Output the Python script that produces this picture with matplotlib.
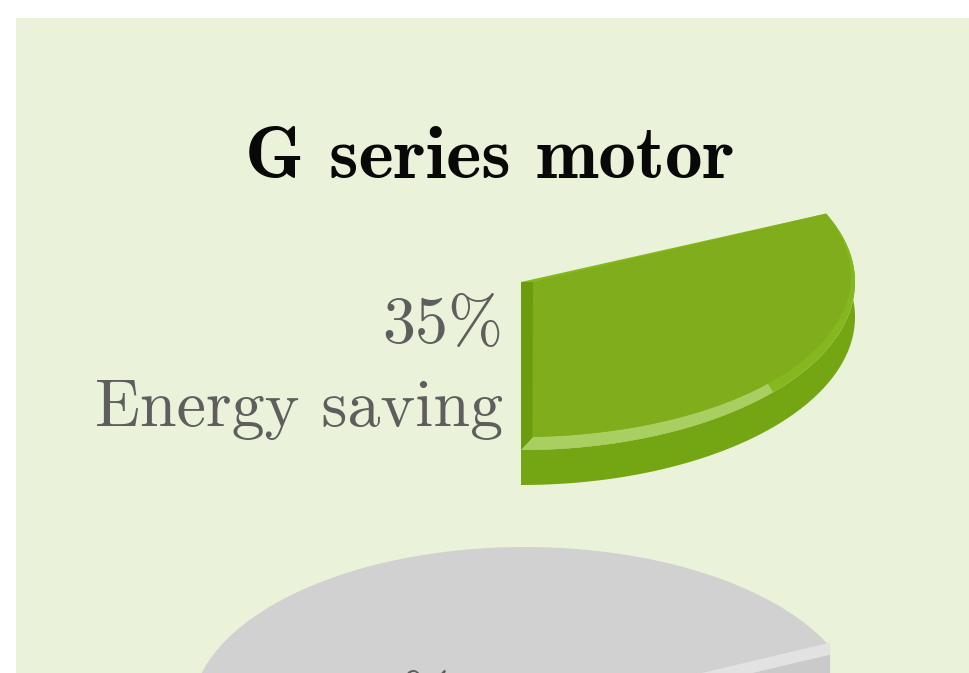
import numpy as np
import matplotlib
matplotlib.use("Agg")
import matplotlib.pyplot as plt

# values from the picture
labels = ["Energy saving", "Rest"]
shares = [35, 65]
title_text = "G series motor"
value_labels = ["35%", "65%"]

BG = "#eaf2d9"
cx, cy, rx, ry = 521, 282, 334, 168
gray_cx, gray_cy = 525, 715
depth = 35
squash = 0.905  # the tilted pie draws 126 deg about 114 deg wide


def arc(a0, a1, x0=cx, y0=cy, sx=rx, sy=ry, n=120):
    # angle runs counter clockwise from the bottom of the ellipse
    t = np.radians(np.linspace(a0, a1, n))
    return x0 + sx * np.sin(t), y0 + sy * np.cos(t)


fig = plt.figure(figsize=(9.7, 6.73), dpi=100, facecolor="white")
ax = fig.add_axes([0, 0, 1, 1])
ax.set_xlim(0, 970)
ax.set_ylim(673, 0)
ax.axis("off")

# panel behind the chart
ax.fill([16, 970, 970, 16], [18, 18, 673, 673], color=BG, lw=0)

green_end = shares[0] / sum(shares) * 360 * squash
split = green_end * 0.43

# green slice, side wall
xs, ys = arc(0, green_end)
ax.fill(np.r_[xs, xs[::-1]], np.r_[ys, ys[::-1] + depth], color="#74a613", lw=0)

# green slice, rim and bevel
ax.fill(np.r_[cx, xs], np.r_[cy, ys], color="#84b81e", lw=0)
xb, yb = arc(0, split)
xi, yi = arc(0, split, sx=rx - 7, sy=ry - 13)
ax.fill(np.r_[xb, xi[::-1]], np.r_[yb, yi[::-1]], color="#a9cf62", lw=0)
ax.fill([cx, cx + 12, cx + 12, cx], [cy, cy, cy + ry - 13, cy + ry], color="#6b9c10", lw=0)

# green slice, top face, the rim dies out towards the far corner
xo, yo = arc(2, green_end)
xi, yi = arc(2, green_end, sx=rx - 7, sy=ry - 13)
fade = np.clip((green_end - np.linspace(2, green_end, xo.size)) / 40, 0, 1)
ax.fill(np.r_[cx + 12, xo + (xi - xo) * fade], np.r_[cy, yo + (yi - yo) * fade],
        color="#7fad1b", lw=0)

# gray slice
xg, yg = arc(green_end, 360, x0=gray_cx, y0=gray_cy)
ax.fill(np.r_[gray_cx, xg], np.r_[gray_cy, yg], color="#d1d1d1", lw=0)
ex, ey = xg[0], yg[0]
ax.fill([gray_cx, ex, ex, gray_cx], [gray_cy + 8, ey + 8, ey + 60, gray_cy + 60], color="#cacaca", lw=0)
ax.fill([gray_cx, ex, ex, gray_cx], [gray_cy, ey - 4, ey + 8, gray_cy + 12], color="#e2e2e2", lw=0)

# texts
ax.text(490, 178, title_text, family="cmb10", fontsize=54,
        ha="center", va="baseline", color="#080808")
ax.text(503, 343, value_labels[0], family="cmr10", fontsize=47.5, ha="right",
        va="baseline", color="#5e5e5e")
ax.text(503, 426, labels[0], family="cmr10", fontsize=47.5, ha="right",
        va="baseline", color="#5e5e5e")
ax.text(395, 720, value_labels[1], family="cmr10", fontsize=47.5, ha="center",
        va="baseline", color="#5e5e5e")

fig.savefig("out.png", dpi=100, facecolor="white")
